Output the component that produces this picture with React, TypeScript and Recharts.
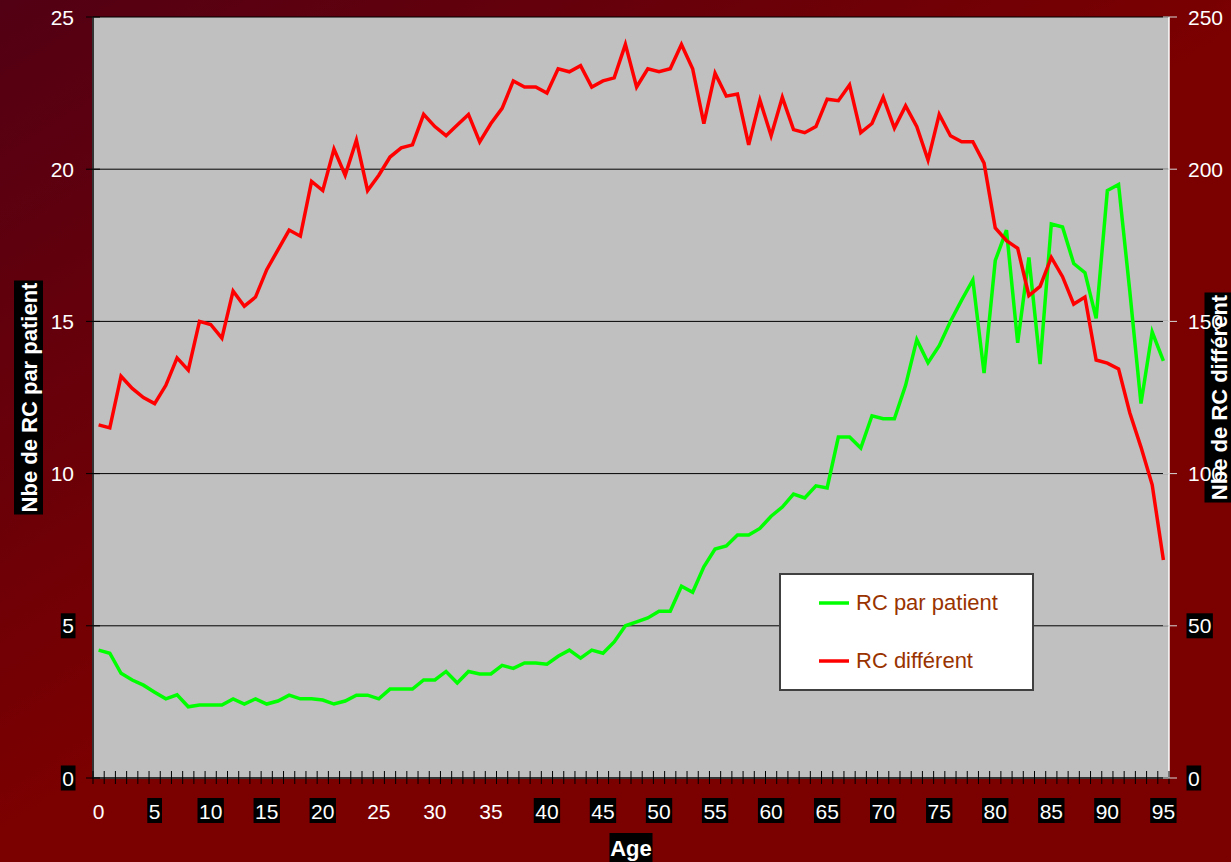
import { LineChart, Line, XAxis, YAxis, CartesianGrid, Legend } from 'recharts'

const ages = [
  0, 1, 2, 3, 4, 5, 6, 7, 8, 9, 10, 11, 12, 13, 14, 15, 16, 17, 18, 19, 20, 21, 22, 23,
  24, 25, 26, 27, 28, 29, 30, 31, 32, 33, 34, 35, 36, 37, 38, 39, 40, 41, 42, 43, 44, 45, 46, 47,
  48, 49, 50, 51, 52, 53, 54, 55, 56, 57, 58, 59, 60, 61, 62, 63, 64, 65, 66, 67, 68, 69, 70, 71,
  72, 73, 74, 75, 76, 77, 78, 79, 80, 81, 82, 83, 84, 85, 86, 87, 88, 89, 90, 91, 92, 93, 94, 95,
]

// RC par patient (left axis)
const rcParPatient = [
  4.2, 4.1, 3.44, 3.22, 3.05, 2.82, 2.6, 2.73, 2.34, 2.4, 2.4, 2.4, 2.6, 2.43, 2.6, 2.43,
  2.53, 2.72, 2.6, 2.6, 2.56, 2.43, 2.53, 2.72, 2.72, 2.6, 2.92, 2.92, 2.92, 3.22, 3.22, 3.5,
  3.12, 3.5, 3.42, 3.42, 3.7, 3.6, 3.78, 3.78, 3.74, 4.0, 4.2, 3.94, 4.2, 4.1, 4.47, 5.0,
  5.13, 5.26, 5.48, 5.48, 6.3, 6.1, 6.94, 7.52, 7.62, 7.98, 7.98, 8.2, 8.6, 8.9, 9.33, 9.2,
  9.6, 9.53, 11.2, 11.2, 10.84, 11.9, 11.8, 11.8, 12.9, 14.4, 13.64, 14.2, 15.0, 15.7, 16.36, 13.3,
  17.0, 18.0, 14.3, 17.1, 13.6, 18.2, 18.1, 16.9, 16.6, 15.1, 19.3, 19.5, 16.0, 12.3, 14.65, 13.7,
]

// RC différent (right axis)
const rcDifferent = [
  116, 115, 132, 128, 125, 123, 129, 138, 134, 150, 149, 144.5, 160, 155, 158, 167,
  173.5, 180, 178, 196, 193, 206.6, 198, 209.5, 193, 198, 204, 207, 208, 218, 214, 211,
  214.5, 218, 209, 215, 220, 229, 227, 227, 225, 233, 232, 234, 227, 229, 230, 241,
  227, 233, 232, 233, 241, 233, 215, 231.5, 224, 224.7, 208, 222.7, 211, 223.6, 213, 212,
  214, 223, 222.5, 227.7, 212, 215, 223.6, 213.5, 220.8, 214, 203, 218, 211, 209, 209, 202,
  180.7, 176.5, 174, 158.5, 161.5, 171, 164.7, 155.7, 158, 137.3, 136.3, 134.4, 120, 108.7, 96.3, 71.6,
]

const seriesNames = ['RC par patient', 'RC différent']
const leftTicks = [0, 5, 10, 15, 20, 25]
const rightTicks = [0, 50, 100, 150, 200, 250]
const xLabels = [0, 5, 10, 15, 20, 25, 30, 35, 40, 45, 50, 55, 60, 65, 70, 75, 80, 85, 90, 95]

// labels that sit on a black box in the original
const xBoxed = [5, 10, 15, 20, 40, 45, 50, 55, 60, 65, 70, 75, 80, 85, 90, 95]
const leftBoxed = [0, 5]
const rightBoxed = [0, 50]

const W = 1231
const H = 862
const LEFT_W = 93
const RIGHT_W = 62
const TOP = 17
const X_H = 84
const BAND = (W - LEFT_W - RIGHT_W) / ages.length
const FONT = '"Liberation Sans", Arial, sans-serif'
const FS = 21

const rows = ages.map((age, i) => ({
  age,
  parPatient: rcParPatient[i],
  different: rcDifferent[i],
}))

const textW = (s: string) => s.length * FS * 0.556

function XTick(props: any) {
  const { x, y, payload, index } = props
  const v = payload.value
  const half = BAND / 2
  const label = String(v)
  const w = textW(label) + 3
  const show = xLabels.includes(v)
  return (
    <g>
      <line x1={x - half} x2={x - half} y1={y - 7} y2={y + 6} stroke="#000" strokeWidth={1} />
      {index === ages.length - 1 && (
        <line x1={x + half} x2={x + half} y1={y - 7} y2={y + 6} stroke="#000" strokeWidth={1} />
      )}
      {show && xBoxed.includes(v) && <rect x={x - w / 2} y={y + 20} width={w} height={25} fill="#000" />}
      {show && (
        <text x={x} y={y + 40.5} textAnchor="middle" fill="#fff" fontSize={FS} fontFamily={FONT}>
          {label}
        </text>
      )}
    </g>
  )
}

function LeftTick(props: any) {
  const { x, y, payload } = props
  const label = String(payload.value)
  const w = textW(label) + 3
  return (
    <g>
      <line x1={x - 7} x2={x + 7} y1={y} y2={y} stroke="#000" />
      {leftBoxed.includes(payload.value) && (
        <rect x={x - 19 - w + 1.5} y={y - 12.5} width={w} height={25} fill="#000" />
      )}
      <text x={x - 19} y={y + 7.5} textAnchor="end" fill="#fff" fontSize={FS} fontFamily={FONT}>
        {label}
      </text>
    </g>
  )
}

function RightTick(props: any) {
  const { x, y, payload } = props
  const label = String(payload.value)
  const w = textW(label) + 3
  return (
    <g>
      <line x1={x - 6} x2={x + 8} y1={y} y2={y} stroke="#d8d8d8" />
      {rightBoxed.includes(payload.value) && (
        <rect x={x + 17.5} y={y - 12.5} width={w} height={25} fill="#000" />
      )}
      <text x={x + 19} y={y + 7.5} textAnchor="start" fill="#fff" fontSize={FS} fontFamily={FONT}>
        {label}
      </text>
    </g>
  )
}

function VTitle({ cx, cy, text, len }: { cx: number; cy: number; text: string; len: number }) {
  return (
    <g transform={`translate(${cx}, ${cy}) rotate(-90)`}>
      <rect x={-len / 2} y={-14.5} width={len} height={29} fill="#000" />
      <text x={0} y={8} textAnchor="middle" fill="#fff" fontSize={22} fontWeight="bold" fontFamily={FONT}>
        {text}
      </text>
    </g>
  )
}

const leftTitle = (props: any) => {
  const vb = props.viewBox
  return <VTitle cx={vb.x + 28.5} cy={vb.y + vb.height / 2} text="Nbe de RC par patient" len={234} />
}

const rightTitle = (props: any) => {
  const vb = props.viewBox
  return <VTitle cx={vb.x + 50} cy={vb.y + vb.height / 2} text="Nbe de RC différent" len={210} />
}

const ageTitle = (props: any) => {
  const vb = props.viewBox
  const cx = vb.x + vb.width / 2
  return (
    <g>
      <rect x={cx - 21.5} y={vb.y + 55} width={43} height={29} fill="#000" />
      <text x={cx} y={vb.y + 78} textAnchor="middle" fill="#fff" fontSize={22} fontWeight="bold" fontFamily={FONT}>
        Age
      </text>
    </g>
  )
}

const renderLegend = (props: any) => {
  const payload = [...(props.payload || [])].sort(
    (a: any, b: any) => seriesNames.indexOf(a.value) - seriesNames.indexOf(b.value),
  )
  return (
    <div
      style={{
        width: 255,
        height: 118,
        boxSizing: 'border-box',
        background: '#fff',
        border: '2px solid #404040',
        position: 'relative',
        fontFamily: FONT,
      }}
    >
      {payload.map((entry: any, i: number) => (
        <div
          key={`legend-${i}`}
          style={{ position: 'absolute', left: 38, top: 14 + i * 58, height: 28, display: 'flex', alignItems: 'center' }}
        >
          <svg width={30} height={6}>
            <line x1={0} x2={30} y1={3} y2={3} stroke={entry.color} strokeWidth={3.5} />
          </svg>
          <span style={{ marginLeft: 7, color: '#993300', fontSize: 22, lineHeight: '28px' }}>{entry.value}</span>
        </div>
      ))}
    </div>
  )
}

export default function App() {
  return (
    <div
      style={{
        position: 'absolute',
        left: 0,
        top: 0,
        width: W,
        height: H,
        overflow: 'hidden',
        background: 'linear-gradient(147deg, #520014 0%, #7b0000 50%, #7b0000 100%)',
        fontFamily: FONT,
      }}
    >
      <LineChart width={W} height={H} data={rows} margin={{ top: TOP, right: 0, bottom: 0, left: 0 }}>
        <CartesianGrid yAxisId="left" vertical={false} stroke="#000" fill="#C0C0C0" />
        <XAxis
          dataKey="age"
          interval={0}
          height={X_H}
          padding={{ left: BAND / 2, right: BAND / 2 }}
          tick={XTick}
          tickLine={false}
          tickSize={0}
          tickMargin={0}
          axisLine={{ stroke: '#333', strokeWidth: 2 }}
          label={ageTitle}
        />
        <YAxis
          yAxisId="left"
          width={LEFT_W}
          domain={[0, 25]}
          ticks={leftTicks}
          tick={LeftTick}
          tickLine={false}
          tickSize={0}
          tickMargin={0}
          axisLine={{ stroke: '#333', strokeWidth: 2 }}
          label={leftTitle}
        />
        <YAxis
          yAxisId="right"
          orientation="right"
          width={RIGHT_W}
          domain={[0, 250]}
          ticks={rightTicks}
          tick={RightTick}
          tickLine={false}
          tickSize={0}
          tickMargin={0}
          axisLine={{ stroke: '#fff', strokeWidth: 1.5 }}
          label={rightTitle}
        />
        <Line
          yAxisId="left"
          type="linear"
          dataKey="parPatient"
          name={seriesNames[0]}
          stroke="#00FF00"
          strokeWidth={3.5}
          dot={false}
          isAnimationActive={false}
        />
        <Line
          yAxisId="right"
          type="linear"
          dataKey="different"
          name={seriesNames[1]}
          stroke="#FF0000"
          strokeWidth={3.5}
          dot={false}
          isAnimationActive={false}
        />
        <Legend
          layout="horizontal"
          verticalAlign="middle"
          align="center"
          content={renderLegend}
          wrapperStyle={{ left: 779, top: 573, width: 255, height: 118 }}
        />
      </LineChart>
    </div>
  )
}
